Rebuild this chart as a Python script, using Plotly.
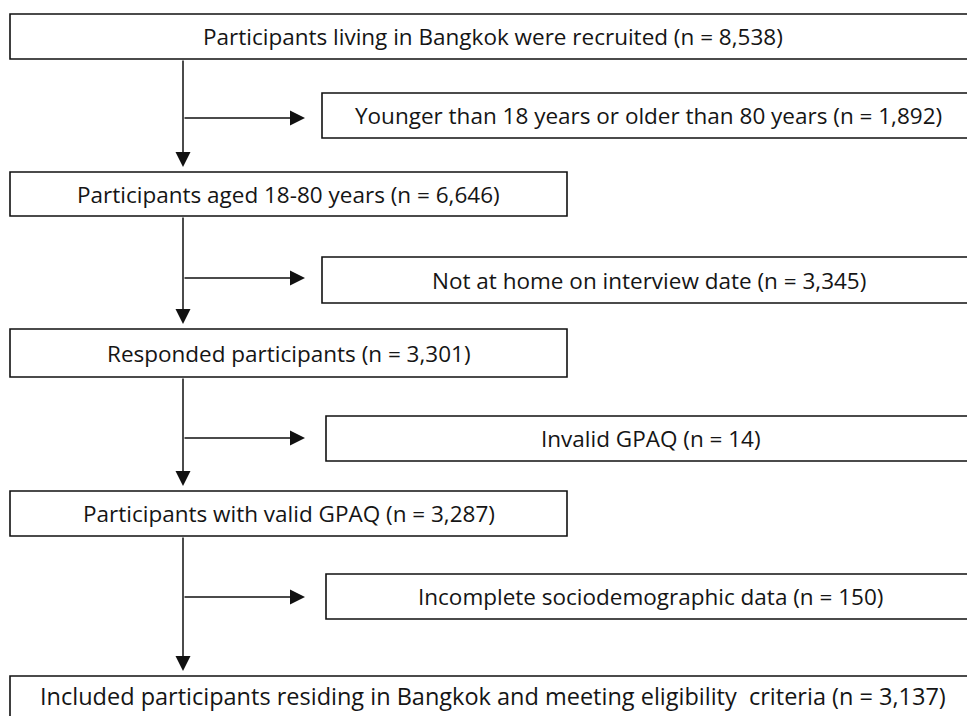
import plotly.graph_objects as go

# Flowchart content
main_labels = [
    "Participants living in Bangkok were recruited",
    "Participants aged 18-80 years",
    "Responded participants",
    "Participants with valid GPAQ",
    "Included participants residing in Bangkok and meeting eligibility  criteria",
]
main_counts = [8538, 6646, 3301, 3287, 3137]

excl_labels = [
    "Younger than 18 years or older than 80 years",
    "Not at home on interview date",
    "Invalid GPAQ",
    "Incomplete sociodemographic data",
]
excl_counts = [1892, 3345, 14, 150]

# Geometry (page pixels, y downward)
W, H = 975, 716
OFF = 8  # page body margin
main_boxes = [  # x0, x1, y0, y1
    (10, 985, 14, 59),
    (10, 567, 172, 216),
    (10, 567, 329, 377),
    (10, 567, 491, 536),
    (10, 985, 676, 730),
]
main_font_size = [22.5, 22.5, 22.5, 22.5, 23.5]
excl_boxes = [
    (322, 985, 93, 138),
    (322, 985, 257, 303),
    (326, 985, 416, 461),
    (326, 985, 574, 619),
]
spine_x = 183
branch_y = [118, 278, 438, 597]
arrow_tip_x = 305

LINE = dict(color="#111111", width=1.6)
FONT_FAMILY = "Open Sans, sans-serif"
TEXT_COLOR = "#151515"

fig = go.Figure()
shapes = []
annotations = []


def label(text, n):
    return f"{text} (n = {n:,})"


for (x0, x1, y0, y1), t, n, fs in zip(main_boxes, main_labels, main_counts, main_font_size):
    shapes.append(dict(type="rect", x0=x0, x1=x1, y0=y0, y1=y1, line=LINE,
                       fillcolor="white", layer="below"))
    cx = (x0 + min(x1, W)) / 2
    cy = (y0 + min(y1, H)) / 2
    annotations.append(dict(x=cx, y=cy, text=label(t, n), showarrow=False,
                            font=dict(family=FONT_FAMILY, size=fs, color=TEXT_COLOR),
                            xanchor="center", yanchor="middle"))

for (x0, x1, y0, y1), t, n in zip(excl_boxes, excl_labels, excl_counts):
    shapes.append(dict(type="rect", x0=x0, x1=x1, y0=y0, y1=y1, line=LINE,
                       fillcolor="white", layer="below"))
    cx = (x0 + min(x1, W)) / 2
    cy = (y0 + y1) / 2
    annotations.append(dict(x=cx, y=cy, text=label(t, n), showarrow=False,
                            font=dict(family=FONT_FAMILY, size=22.5, color=TEXT_COLOR),
                            xanchor="center", yanchor="middle"))

# vertical arrows between main boxes
for i in range(len(main_boxes) - 1):
    y_start = main_boxes[i][3]
    y_end = main_boxes[i + 1][2] - 5
    annotations.append(dict(x=spine_x, y=y_end, ax=spine_x, ay=y_start,
                            xref="x", yref="y", axref="x", ayref="y",
                            text="", showarrow=True, arrowhead=2,
                            arrowsize=2, arrowwidth=1.5, arrowcolor="#111111"))

# horizontal arrows to exclusion boxes
for y in branch_y:
    annotations.append(dict(x=arrow_tip_x, y=y, ax=spine_x, ay=y,
                            xref="x", yref="y", axref="x", ayref="y",
                            text="", showarrow=True, arrowhead=2,
                            arrowsize=2, arrowwidth=1.5, arrowcolor="#111111"))

fig.update_layout(
    width=W, height=H,
    margin=dict(l=0, r=0, t=0, b=0),
    plot_bgcolor="white", paper_bgcolor="white",
    shapes=shapes, annotations=annotations,
    xaxis=dict(range=[OFF, W + OFF], visible=False, fixedrange=True),
    yaxis=dict(range=[H + OFF, OFF], visible=False, fixedrange=True),
    showlegend=False,
)

fig.write_html("out.html", config={"displayModeBar": False})
